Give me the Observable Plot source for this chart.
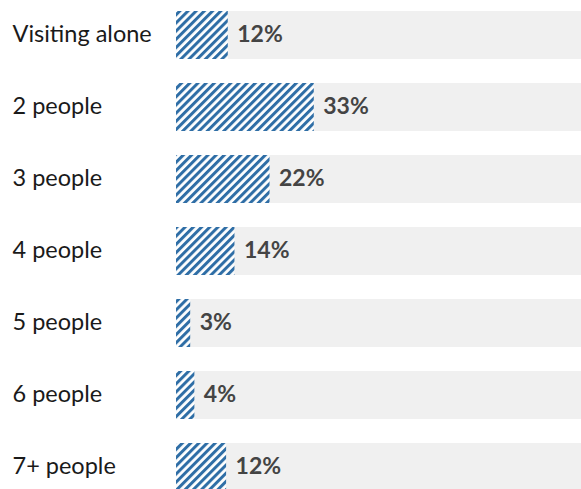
<!DOCTYPE html>
<html>
<head>
<meta charset="utf-8">
<script src="https://cdn.jsdelivr.net/npm/d3@7"></script>
<script src="https://cdn.jsdelivr.net/npm/@observablehq/plot@0.6"></script>
<style>
  html, body { margin: 0; padding: 0; background: #fff; }
  #chart svg { display: block; }
</style>
</head>
<body>
<div id="chart"></div>
<script>
const categories = ["Visiting alone", "2 people", "3 people", "4 people", "5 people", "6 people", "7+ people"];
const shares = [12.4, 33.0, 22.4, 14.0, 3.4, 4.4, 12.0];
const valueLabels = ["12%", "33%", "22%", "14%", "3%", "4%", "12%"];
const xMax = 97;

const data = categories.map((c, i) => ({category: c, share: shares[i], label: valueLabels[i]}));

const svg = Plot.plot({
  width: 581,
  height: 489,
  marginLeft: 176,
  marginRight: 0,
  marginTop: 0,
  marginBottom: 0,
  style: {fontFamily: "Lato", background: "#fff"},
  x: {type: "linear", domain: [0, xMax], axis: null},
  y: {type: "band", domain: categories, range: [-1, 503], paddingInner: 1/3, paddingOuter: 1/6, label: null},
  marks: [
    Plot.barX(data, {y: "category", x1: 0, x2: xMax, fill: "#f0f0f0"}),
    Plot.barX(data, {y: "category", x1: 0, x2: "share", fill: "url(#hatch)"}),
    Plot.text(data, {y: "category", x: "share", text: "label", textAnchor: "start", dx: 9, dy: -1,
      fontSize: 23, fontWeight: "bold", fill: "#444"}),
    Plot.axisY({tickSize: 0, tickPadding: 0, textAnchor: "start", dx: -164, dy: -1, fontSize: 23.5, fill: "#1a1a1a"})
  ]
});

const defs = d3.select(svg).insert("defs", ":first-child");
const pat = defs.append("pattern")
  .attr("id", "hatch")
  .attr("patternUnits", "userSpaceOnUse")
  .attr("width", 5.8).attr("height", 5.8)
  .attr("patternTransform", "rotate(45)");
pat.append("rect").attr("width", 5.8).attr("height", 5.8).attr("fill", "#ffffff");
pat.append("rect").attr("width", 3).attr("height", 5.8).attr("fill", "#2f6ea6");

document.getElementById("chart").appendChild(svg);
</script>
</body>
</html>
